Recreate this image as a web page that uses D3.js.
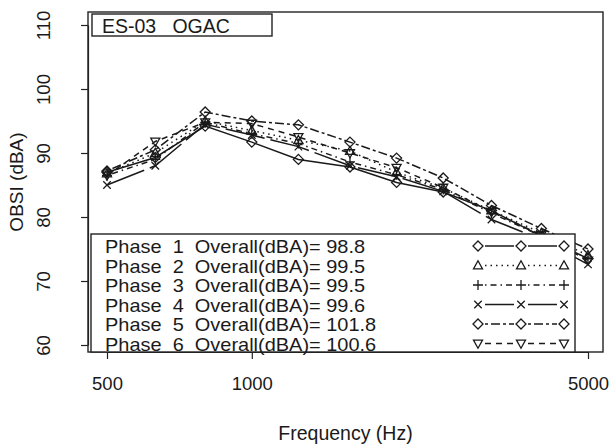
<!DOCTYPE html>
<html>
<head>
<meta charset="utf-8">
<script src="https://cdn.jsdelivr.net/npm/d3@7"></script>
<style>
  html, body { margin: 0; padding: 0; background: #fff; }
  svg { display: block; }
  text { font-family: "Liberation Sans", Arial, sans-serif; fill: #1a1a1a; }
</style>
</head>
<body>
<svg id="chart" width="612" height="448"></svg>
<script>
// ---- data ----
const freqs = [500, 630, 800, 1000, 1250, 1600, 2000, 2500, 3150, 4000, 5000];
const phase1 = [87.0, 89.3, 94.2, 91.7, 89.0, 87.8, 85.4, 83.9, 81.0, 77.0, 73.5];
const phase2 = [86.8, 90.0, 95.0, 93.5, 92.0, 90.3, 87.0, 84.5, 81.0, 77.5, 74.0];
const phase3 = [86.5, 89.0, 94.8, 93.0, 91.5, 88.6, 86.6, 84.3, 80.6, 77.0, 73.5];
const phase4 = [85.0, 88.0, 94.5, 92.8, 91.0, 88.0, 86.3, 84.0, 79.6, 76.5, 72.6];
const phase5 = [87.2, 90.5, 96.4, 95.0, 94.4, 91.7, 89.2, 86.1, 81.8, 78.2, 75.0];
const phase6 = [86.5, 91.8, 94.8, 94.6, 92.5, 90.0, 87.7, 84.6, 80.8, 77.2, 73.2];
const overall = ["98.8", "99.5", "99.5", "99.6", "101.8", "100.6"];
const phaseNames = ["1", "2", "3", "4", "5", "6"];
const yTicks = [60, 70, 80, 90, 100, 110];
const xTicks = [500, 1000, 5000];
const titleText = "ES-03   OGAC";
const xLabel = "Frequency (Hz)";
const yLabel = "OBSI (dBA)";

const seriesValues = [phase1, phase2, phase3, phase4, phase5, phase6];
const shapes = ["diamond", "triangle", "plus", "cross", "diamond", "triangleDown"];
const dashes = [null, "1.5,4", "1.5,4,6,4", "40,6", "3,3,9,3", "6,5"];

// ---- layout ----
const box = { left: 88, right: 603, top: 12, bottom: 352 };
const x = d3.scaleLog().domain([500, 5000]).range([107, 588]);
const y = d3.scaleLinear().domain([60, 110]).range([345, 25]);
const FONT = "'Liberation Sans', Arial, sans-serif";

const svg = d3.select("#chart");

// symbol types (R-style pch)
function symType(shape) {
  return {
    draw(ctx, size) {
      const r = Math.sqrt(size) / 2;
      if (shape === "diamond") {
        ctx.moveTo(0, -r); ctx.lineTo(r, 0); ctx.lineTo(0, r); ctx.lineTo(-r, 0); ctx.closePath();
      } else if (shape === "triangle") {
        const h = r * 0.95;
        ctx.moveTo(0, -h); ctx.lineTo(h * 0.95, h * 0.7); ctx.lineTo(-h * 0.95, h * 0.7); ctx.closePath();
      } else if (shape === "triangleDown") {
        const h = r * 0.95;
        ctx.moveTo(0, h); ctx.lineTo(h * 0.95, -h * 0.7); ctx.lineTo(-h * 0.95, -h * 0.7); ctx.closePath();
      } else if (shape === "plus") {
        ctx.moveTo(-r, 0); ctx.lineTo(r, 0); ctx.moveTo(0, -r); ctx.lineTo(0, r);
      } else if (shape === "cross") {
        const k = r * 0.75;
        ctx.moveTo(-k, -k); ctx.lineTo(k, k); ctx.moveTo(-k, k); ctx.lineTo(k, -k);
      }
    }
  };
}
const symSize = 100;

// plot box
svg.append("rect")
  .attr("x", box.left).attr("y", box.top)
  .attr("width", box.right - box.left).attr("height", box.bottom - box.top)
  .attr("fill", "none").attr("stroke", "#222").attr("stroke-width", 1.4);

// series
const line = d3.line().x((d, i) => x(freqs[i])).y(d => y(d));
seriesValues.forEach((vals, s) => {
  const g = svg.append("g").attr("class", "series");
  g.append("path")
    .attr("d", line(vals))
    .attr("fill", "none").attr("stroke", "#1a1a1a").attr("stroke-width", 1.5)
    .attr("stroke-dasharray", dashes[s]);
  g.selectAll("path.pt").data(vals).enter().append("path")
    .attr("class", "pt")
    .attr("transform", (d, i) => `translate(${x(freqs[i])},${y(d)})`)
    .attr("d", d3.symbol().type(symType(shapes[s])).size(symSize))
    .attr("fill", "none").attr("stroke", "#1a1a1a").attr("stroke-width", 1.3);
});

// y axis
const yAxis = svg.append("g")
  .attr("transform", `translate(${box.left},0)`)
  .call(d3.axisLeft(y).tickValues(yTicks).tickSize(7).tickSizeOuter(0).tickPadding(0));
yAxis.select(".domain").attr("stroke", "#222").attr("stroke-width", 1.2);
yAxis.selectAll(".tick line").attr("stroke", "#222").attr("stroke-width", 1.2);
yAxis.selectAll(".tick text")
  .attr("x", 0).attr("y", 0).attr("dy", null)
  .attr("transform", "translate(-38,0) rotate(-90)")
  .attr("text-anchor", "middle")
  .style("font-size", "18.5px")
  .style("font-family", FONT)
  .attr("fill", "#1a1a1a");

// x axis
const xAxis = svg.append("g")
  .attr("transform", `translate(0,${box.bottom})`)
  .call(d3.axisBottom(x).tickValues(xTicks).tickFormat(d3.format("d")).tickSize(7).tickSizeOuter(0));
xAxis.select(".domain").attr("stroke", "#222").attr("stroke-width", 1.2);
xAxis.selectAll(".tick line").attr("stroke", "#222").attr("stroke-width", 1.2);
xAxis.selectAll(".tick text")
  .attr("y", 38).attr("dy", null)
  .style("font-size", "18.5px")
  .style("font-family", FONT)
  .attr("fill", "#1a1a1a");

// axis titles
svg.append("text")
  .attr("x", (box.left + box.right) / 2).attr("y", 440)
  .attr("text-anchor", "middle").style("font-size", "19.5px")
  .text(xLabel);
svg.append("text")
  .attr("transform", `translate(23,${(box.top + box.bottom) / 2}) rotate(-90)`)
  .attr("text-anchor", "middle").style("font-size", "19px")
  .text(yLabel);

// title box
svg.append("rect")
  .attr("x", 92).attr("y", 14).attr("width", 180).attr("height", 22)
  .attr("fill", "#fff").attr("stroke", "#222").attr("stroke-width", 1.4);
svg.append("text")
  .attr("x", 102).attr("y", 33)
  .style("font-size", "19.5px").style("white-space", "pre")
  .text(titleText);

// legend
const leg = { x: 91, y: 234, w: 484, h: 118, row0: 246, rowH: 19.5 };
svg.append("rect")
  .attr("x", leg.x).attr("y", leg.y).attr("width", leg.w).attr("height", leg.h)
  .attr("fill", "#fff").attr("stroke", "#222").attr("stroke-width", 1.4);
const legendRows = svg.append("g").selectAll("g").data(phaseNames).enter().append("g")
  .attr("transform", (d, i) => `translate(0,${leg.row0 + i * leg.rowH})`);
legendRows.append("text")
  .attr("x", 105).attr("y", 7)
  .style("font-size", "19px").style("white-space", "pre")
  .text((d, i) => `Phase  ${d}  Overall(dBA)= ${overall[i]}`)
  .each(function () {
    const w = this.getComputedTextLength();
    d3.select(this).attr("textLength", w * 1.05).attr("lengthAdjust", "spacingAndGlyphs");
  });
const symX = [478, 521, 564];
legendRows.each(function (d, i) {
  const g = d3.select(this);
  for (let k = 0; k < 2; k++) {
    g.append("line")
      .attr("x1", symX[k] + 7).attr("x2", symX[k + 1] - 7)
      .attr("y1", 0).attr("y2", 0)
      .attr("stroke", "#1a1a1a").attr("stroke-width", 1.5)
      .attr("stroke-dasharray", dashes[i]);
  }
  symX.forEach(sx => {
    g.append("path")
      .attr("transform", `translate(${sx},0)`)
      .attr("d", d3.symbol().type(symType(shapes[i])).size(symSize))
      .attr("fill", "none").attr("stroke", "#1a1a1a").attr("stroke-width", 1.3);
  });
});
</script>
</body>
</html>
